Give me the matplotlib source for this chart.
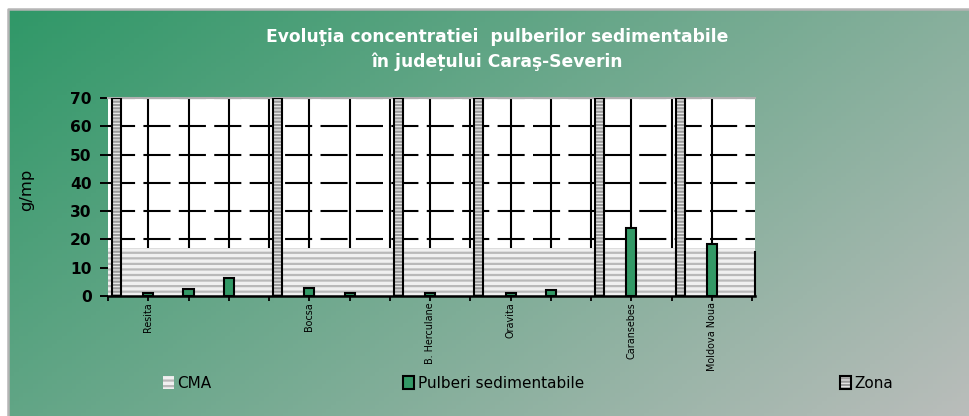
import matplotlib
matplotlib.use("Agg")
import matplotlib.pyplot as plt
import numpy as np
from matplotlib.patches import Patch, Rectangle

plt.rcParams['font.family'] = ['DejaVu Sans']
plt.rcParams['hatch.linewidth'] = 1.6

# slots along the x axis (separators + sampling points)
slot_labels = ['', 'Resita', '', '', '', 'Bocsa', '', '', 'B. Herculane', '',
               'Oravita', '', '', 'Caransebes', '', 'Moldova Noua']
pulberi = [np.nan, 1.2, 2.3, 6.2, np.nan, 2.8, 1.1, np.nan, 1.1, np.nan,
           1.1, 2.2, np.nan, 24.0, np.nan, 18.4]
zona = [70, np.nan, np.nan, np.nan, 70, np.nan, np.nan, 70, np.nan, 70,
        np.nan, np.nan, 70, np.nan, 70, np.nan]
cma = 17
yticks = [0, 10, 20, 30, 40, 50, 60, 70]

slots = np.arange(len(slot_labels))
pulberi = np.array(pulberi)
zona = np.array(zona)

fig = plt.figure(figsize=(9.7, 4.16), dpi=100)

# gradient background
bg = fig.add_axes([0, 0, 1, 1], zorder=-10)
bg.set_xlim(0, 970)
bg.set_ylim(416, 0)
bg.axis('off')
xx, yy = np.meshgrid(np.linspace(0, 1, 200), np.linspace(0, 1, 100))
t = 0.64 * xx + 0.36 * yy
c0 = np.array([48, 152, 104]) / 255
c1 = np.array([186, 189, 187]) / 255
grad = c0[None, None, :] * (1 - t[..., None]) + c1[None, None, :] * t[..., None]
bg.add_patch(Rectangle((0, 0), 970, 416, color='white', zorder=0))
bg.imshow(grad, extent=(9, 971, 417, 10), aspect='auto', zorder=1)
bg.plot([8, 8, 971], [417, 9, 9], color='#b5b5b5', lw=1.8, zorder=2)

ax = fig.add_axes([108 / 970, 1 - 296 / 416, 647 / 970, 198 / 416])
ax.set_facecolor('white')
ax.set_xlim(0, 16.07)
ax.set_ylim(0, 70)

# grid
ax.set_axisbelow(True)
ax.yaxis.grid(True, color='black', lw=1.5, linestyle=(0, (13, 4)))
ax.xaxis.grid(True, color='black', lw=1.5)

# CMA band
ax.axhspan(0, cma, facecolor='#f0f0f0', edgecolor='#b9b9b9', hatch='---',
           lw=0, zorder=1)

# Zona separators
zm = ~np.isnan(zona)
ax.bar(slots[zm] + 0.21, zona[zm], width=0.22, facecolor='#eeeeee',
       edgecolor='#9c9c9c', hatch='-----', lw=0, zorder=3)
ax.bar(slots[zm] + 0.21, zona[zm], width=0.22, facecolor='none',
       edgecolor='black', lw=1.5, zorder=3.1)

# Pulberi sedimentabile
pm = ~np.isnan(pulberi)
ax.bar(slots[pm], pulberi[pm], width=0.25, color='#339966',
       edgecolor='black', lw=1.5, zorder=4)

ax.set_xticks(np.arange(len(slot_labels) + 1))
ax.set_xticklabels(slot_labels + [''], rotation=90, fontsize=6.9)
gl = ax.xaxis.get_gridlines()
gl[0].set_visible(False)
gl[-1].set_visible(False)
ax.tick_params(axis='x', direction='out', length=3.6, width=1.3, pad=1)

ax.set_yticks(yticks)
ax.set_yticklabels([str(v) for v in yticks], fontsize=11.2, fontweight='bold')
ax.tick_params(axis='y', direction='out', length=5.8, width=1.4, pad=6)

ax.spines['left'].set_visible(False)
ax.spines['top'].set_color('#b0b0b0')
ax.spines['top'].set_linewidth(1.5)
ax.spines['right'].set_color('black')
ax.spines['right'].set_linewidth(1.5)
ax.spines['right'].set_bounds(0, 15.6)
ax.spines['bottom'].set_color('black')
ax.spines['bottom'].set_linewidth(1.8)
ax.spines['bottom'].set_zorder(5)

fig.text(27 / 970, 1 - 190 / 416, 'g/mp', rotation=90, fontsize=11.8,
         ha='center', va='center', color='black')

fig.text(497 / 970, 1 - 37 / 416, 'Evoluţia concentratiei  pulberilor sedimentabile',
         ha='center', va='center', color='white', fontsize=12.3, fontweight='bold')
fig.text(497 / 970, 1 - 62 / 416, 'în județului Caraş-Severin',
         ha='center', va='center', color='white', fontsize=12.3, fontweight='bold')

# legend entries
h_cma = Patch(facecolor='#f0f0f0', edgecolor='#b9b9b9', hatch='---', lw=0)
h_pul = Patch(facecolor='#339966', edgecolor='black', lw=1.5)
h_zon = (Patch(facecolor='#eeeeee', edgecolor='#9c9c9c', hatch='-----', lw=0),
         Patch(facecolor='none', edgecolor='black', lw=1.5))
for h, lab, xpos in [(h_cma, 'CMA', 163), (h_pul, 'Pulberi sedimentabile', 403),
                     (h_zon, 'Zona', 840)]:
    fig.legend(handles=[h], labels=[lab], loc='center left',
               bbox_to_anchor=(xpos / 970, 1 - 383 / 416), frameon=False,
               borderpad=0, borderaxespad=0, handlelength=0.7, handleheight=0.9,
               handletextpad=0.25, fontsize=11)

fig.savefig('out.png', dpi=100)
